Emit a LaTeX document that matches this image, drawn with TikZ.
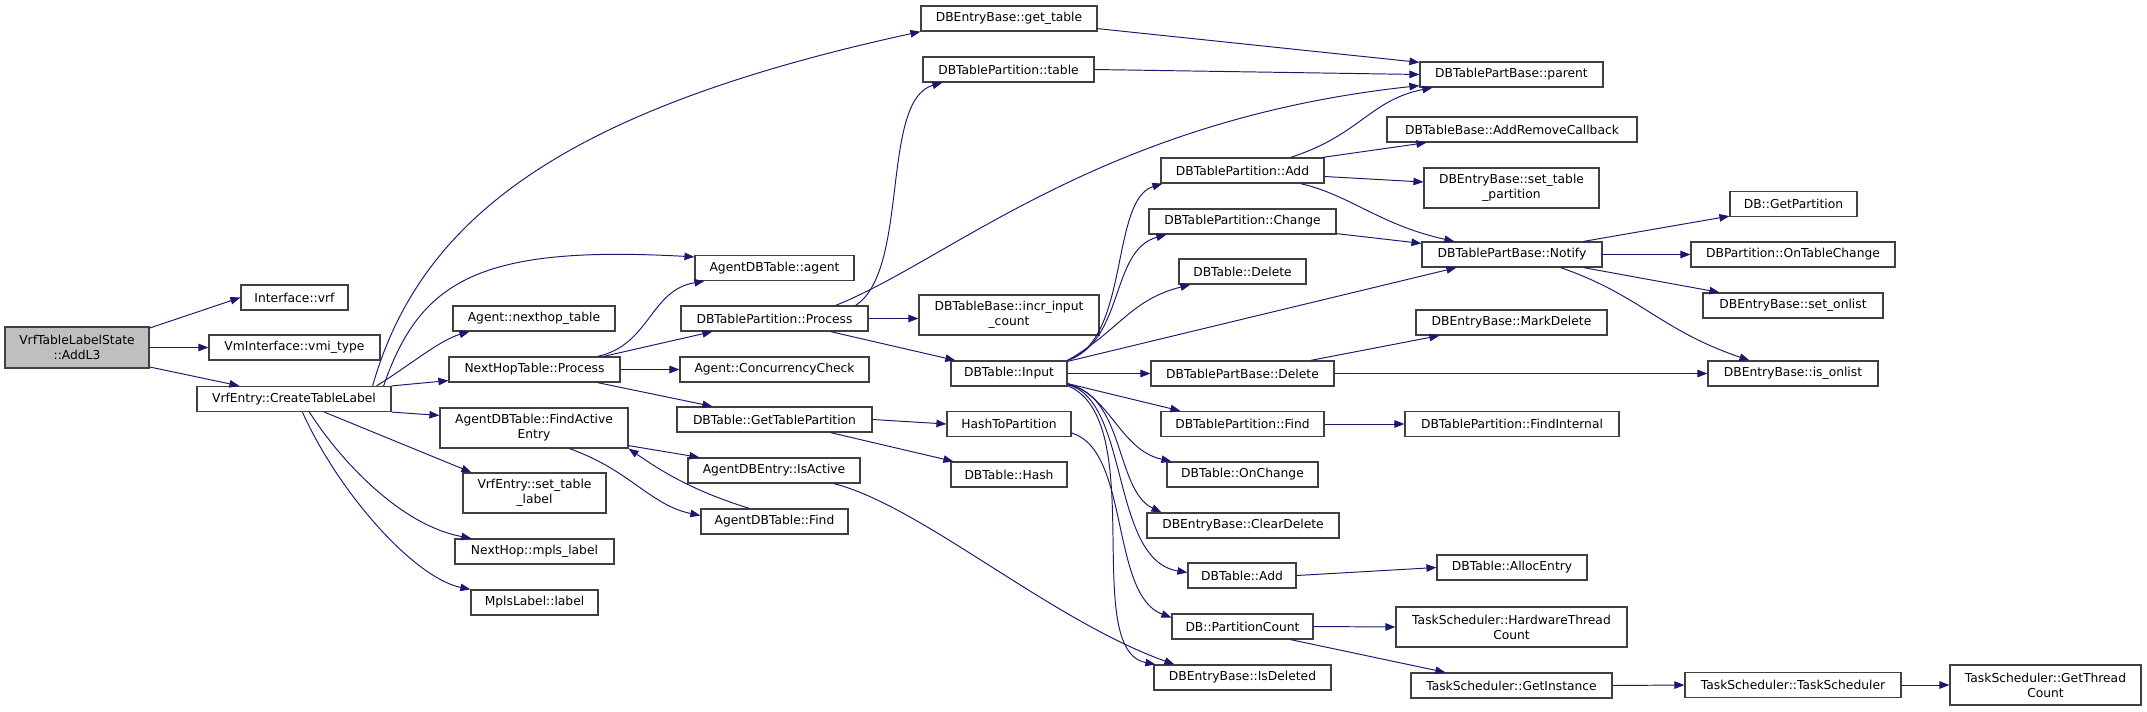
\documentclass[tikz,border=0pt]{standalone}
\usepackage{fontspec}
\setmainfont{DejaVu Sans}
\usetikzlibrary{arrows.meta,calc}
\definecolor{edgeblue}{HTML}{191970}

\begin{document}
\begin{tikzpicture}[x=0.02cm,y=-0.02cm,
  fn/.style={draw=black!75, line width=0.7pt, fill=white, inner sep=0pt, minimum height=0.5cm, align=center, font=\fontsize{7}{8.5}\selectfont},
  call/.style={draw=edgeblue, line width=0.55pt, -{Triangle[length=0.2cm,width=0.15cm]}}]
\fill[white] (0,0) rectangle (2147,711);
\node[fn, minimum width=2.88cm, minimum height=0.82cm, fill=black!25] (addl3) at (77,347.5) {VrfTableLabelState\\::AddL3};
\node[fn, minimum width=2.14cm] (ifvrf) at (294.5,297.5) {Interface::vrf};
\node[fn, minimum width=3.42cm] (vmitype) at (294.5,347.5) {VmInterface::vmi\_type};
\node[fn, minimum width=3.88cm] (ctl) at (294,399) {VrfEntry::CreateTableLabel};
\node[fn, minimum width=3.52cm] (gettable) at (1009,18.5) {DBEntryBase::get\_table};
\node[fn, minimum width=3.18cm] (agent) at (774.5,268) {AgentDBTable::agent};
\node[fn, minimum width=3.24cm] (nhtable) at (534,318.5) {Agent::nexthop\_table};
\node[fn, minimum width=3.74cm] (dbpprocess) at (774.5,318.5) {DBTablePartition::Process};
\node[fn, minimum width=3.42cm] (nhprocess) at (534.5,369.5) {NextHopTable::Process};
\node[fn, minimum width=3.78cm] (concheck) at (774.5,369.5) {Agent::ConcurrencyCheck};
\node[fn, minimum width=3.76cm, minimum height=0.8cm] (findactive) at (534,428) {AgentDBTable::FindActive\\Entry};
\node[fn, minimum width=3.90cm] (gettablepart) at (774.5,419.5) {DBTable::GetTablePartition};
\node[fn, minimum width=3.44cm] (isactive) at (774,470.5) {AgentDBEntry::IsActive};
\node[fn, minimum width=2.86cm, minimum height=0.8cm] (settablelabel) at (534.5,493) {VrfEntry::set\_table\\\_label};
\node[fn, minimum width=2.94cm] (agentfind) at (774.5,521.5) {AgentDBTable::Find};
\node[fn, minimum width=3.18cm] (mplslabel) at (534.5,551.5) {NextHop::mpls\_label};
\node[fn, minimum width=2.54cm] (label) at (534.5,602.5) {MplsLabel::label};
\node[fn, minimum width=3.42cm] (dbptable) at (1008.5,69.5) {DBTablePartition::table};
\node[fn, minimum width=3.26cm] (dbpadd) at (1242.5,170.5) {DBTablePartition::Add};
\node[fn, minimum width=3.74cm] (dbpchange) at (1242.5,221.5) {DBTablePartition::Change};
\node[fn, minimum width=2.54cm] (dbtdelete) at (1242.5,271.5) {DBTable::Delete};
\node[fn, minimum width=3.60cm, minimum height=0.8cm] (incrinput) at (1009,315) {DBTableBase::incr\_input\\\_count};
\node[fn, minimum width=2.32cm] (input) at (1009,373.5) {DBTable::Input};
\node[fn, minimum width=2.48cm] (hashtopart) at (1009,424) {HashToPartition};
\node[fn, minimum width=2.32cm] (hash) at (1009,474.5) {DBTable::Hash};
\node[fn, minimum width=3.66cm] (pbdelete) at (1242.5,373.5) {DBTablePartBase::Delete};
\node[fn, minimum width=3.26cm] (dbpfind) at (1242.5,424) {DBTablePartition::Find};
\node[fn, minimum width=3.02cm] (onchange) at (1242.5,474.5) {DBTable::OnChange};
\node[fn, minimum width=3.84cm] (cleardelete) at (1243,525.5) {DBEntryBase::ClearDelete};
\node[fn, minimum width=2.16cm] (dbtadd) at (1242,575.5) {DBTable::Add};
\node[fn, minimum width=2.82cm] (partcount) at (1242.5,626.5) {DB::PartitionCount};
\node[fn, minimum width=3.54cm] (isdeleted) at (1242.5,677.5) {DBEntryBase::IsDeleted};
\node[fn, minimum width=3.66cm] (parent) at (1511.5,74.5) {DBTablePartBase::parent};
\node[fn, minimum width=5.00cm] (addremove) at (1512,129.5) {DBTableBase::AddRemoveCallback};
\node[fn, minimum width=3.50cm, minimum height=0.8cm] (settablepart) at (1511.5,188) {DBEntryBase::set\_table\\\_partition};
\node[fn, minimum width=3.60cm] (notify) at (1512,254.5) {DBTablePartBase::Notify};
\node[fn, minimum width=3.82cm] (markdelete) at (1511.5,322.5) {DBEntryBase::MarkDelete};
\node[fn, minimum width=4.28cm] (findinternal) at (1512,424) {DBTablePartition::FindInternal};
\node[fn, minimum width=3.00cm] (allocentry) at (1512,567.5) {DBTable::AllocEntry};
\node[fn, minimum width=4.62cm, minimum height=0.8cm] (hwthread) at (1511.5,627) {TaskScheduler::HardwareThread\\Count};
\node[fn, minimum width=4.02cm] (getinstance) at (1511.5,685.5) {TaskScheduler::GetInstance};
\node[fn, minimum width=2.54cm] (getpartition) at (1793.5,204) {DB::GetPartition};
\node[fn, minimum width=4.08cm] (ontablechange) at (1793,254.5) {DBPartition::OnTableChange};
\node[fn, minimum width=3.60cm] (setonlist) at (1793,305.5) {DBEntryBase::set\_onlist};
\node[fn, minimum width=3.40cm] (isonlist) at (1793,373.5) {DBEntryBase::is\_onlist};
\node[fn, minimum width=4.32cm] (tsched) at (1793,685) {TaskScheduler::TaskScheduler};
\node[fn, minimum width=3.82cm, minimum height=0.8cm] (getthread) at (2045.5,685) {TaskScheduler::GetThread\\Count};

\draw[call] (addl3.15) -- (ifvrf.west);
\draw[call] (addl3.east) -- (vmitype.west);
\draw[call] (addl3.-15) -- ($(ctl.north west)+(43,0)$);

\draw[call] ($(ctl.north east)+(-19,0)$) .. controls (420,220) and (560,110) .. (gettable.south west);
\draw[call] ($(ctl.north east)+(-8,0)$) .. controls (420,280) and (480,245) .. ($(agent.north west)+(0,2)$);
\draw[call] ($(ctl.north east)+(-15,0)$) .. controls (410,365) and (440,340) .. ($(nhtable.south west)+(17,0)$);
\draw[call] (ctl.north east) -- ($(nhprocess.south west)+(0,-2)$);
\draw[call] (ctl.south east) -- ($(findactive.north west)+(0,8)$);
\draw[call] ($(ctl.south west)+(128,0)$) -- ($(settablelabel.north west)+(9,0)$);
\draw[call] ($(ctl.south west)+(113,0)$) .. controls (340,460) and (400,525) .. ($(mplslabel.north west)+(17,0)$);
\draw[call] ($(ctl.south west)+(106,0)$) .. controls (340,495) and (415,578) .. (label.north west);

\draw[call] ($(nhprocess.north east)+(-23,0)$) .. controls (650,345) and (650,290) .. ($(agent.south west)+(10,0)$);
\draw[call] ($(nhprocess.north east)+(-17,0)$) -- ($(dbpprocess.south west)+(32,0)$);
\draw[call] (nhprocess.east) -- (concheck.west);
\draw[call] ($(nhprocess.south east)+(-23,0)$) -- ($(gettablepart.north west)+(36,0)$);

\draw[call] ($(findactive.south east)+(0,-3)$) -- ($(isactive.north west)+(12,0)$);
\draw[call] ($(findactive.south west)+(130,0)$) .. controls (630,470) and (650,505) .. ($(agentfind.west)+(0,-6)$);
\draw[call] ($(agentfind.north west)+(49,0)$) .. controls (690,490) and (660,470) .. (findactive.south east);
\draw[call] ($(isactive.south east)+(-27,0)$) .. controls (920,505) and (1050,620) .. ($(isdeleted.north west)+(21,0)$);

\draw[call] (gettablepart.east) -- (hashtopart.west);
\draw[call] ($(gettablepart.south east)+(-42,0)$) -- ($(hash.north west)+(3,0)$);
\draw[call] ($(hashtopart.east)+(0,9)$) .. controls (1130,450) and (1110,595) .. ($(partcount.west)+(0,-9)$);

\draw[call] ($(dbpprocess.north east)+(-13,0)$) .. controls (910,270) and (880,100) .. ($(dbptable.south west)+(20,0)$);
\draw[call] ($(dbpprocess.north east)+(-33,0)$) .. controls (950,260) and (1100,120) .. ($(parent.south west)+(0,-2)$);
\draw[call] (dbpprocess.east) -- (dbpprocess.east -| incrinput.west);
\draw[call] ($(dbpprocess.south east)+(-38,0)$) -- ($(input.north west)+(5,0)$);

\draw[call] ($(gettable.south east)+(0,-3)$) -- ($(parent.north west)+(0,1)$);
\draw[call] (dbptable.east) -- (parent.west);

\draw[call] ($(dbpadd.north east)+(-34,0)$) .. controls (1360,135) and (1370,100) .. ($(parent.south west)+(13,0)$);
\draw[call] ($(dbpadd.north east)+(-2,0)$) -- ($(addremove.south west)+(40,0)$);
\draw[call] ($(dbpadd.east)+(0,6)$) -- ($(settablepart.west)+(0,-6)$);
\draw[call] ($(dbpadd.south east)+(-24,0)$) .. controls (1350,195) and (1380,225) .. ($(notify.north west)+(33,0)$);
\draw[call] ($(dbpchange.south east)+(0,-1)$) -- ($(notify.north west)+(0,2)$);

\draw[call] ($(input.north east)+(0,1)$) -- ($(notify.south west)+(35,0)$);
\draw[call] (input.north east) .. controls (1130,340) and (1110,200) .. ($(dbpadd.south west)+(2,0)$);
\draw[call] (input.north east) .. controls (1125,340) and (1110,250) .. ($(dbpchange.south west)+(18,0)$);
\draw[call] (input.north east) .. controls (1120,330) and (1130,300) .. ($(dbtdelete.south west)+(12,0)$);
\draw[call] (input.east) -- (pbdelete.west);
\draw[call] ($(input.south east)+(0,-3)$) -- ($(dbpfind.north west)+(20,0)$);
\draw[call] ($(input.south east)+(0,-3)$) .. controls (1110,395) and (1120,450) .. ($(onchange.north west)+(5,0)$);
\draw[call] ($(input.south east)+(0,-2)$) .. controls (1125,395) and (1115,490) .. ($(cleardelete.north west)+(15,0)$);
\draw[call] ($(input.south east)+(0,-2)$) .. controls (1130,400) and (1110,560) .. ($(dbtadd.west)+(0,-3)$);
\draw[call] ($(input.south east)+(0,-1)$) .. controls (1150,420) and (1080,650) .. ($(isdeleted.north west)+(2,0)$);

\draw[call] ($(pbdelete.north east)+(-24,0)$) -- ($(markdelete.south west)+(24,0)$);
\draw[call] (pbdelete.east) -- (isonlist.west);

\draw[call] ($(notify.north east)+(-19,0)$) -- ($(getpartition.south west)+(0,-1)$);
\draw[call] (notify.east) -- (ontablechange.west);
\draw[call] ($(notify.south east)+(-19,0)$) -- ($(setonlist.north west)+(17,0)$);
\draw[call] ($(notify.south east)+(-42,0)$) .. controls (1640,295) and (1660,330) .. ($(isonlist.north west)+(42,0)$);

\draw[call] (dbpfind.east) -- (findinternal.west);
\draw[call] (dbtadd.east) -- (allocentry.west);
\draw[call] (partcount.east) -- (hwthread.west);
\draw[call] ($(partcount.south east)+(-23,0)$) -- ($(getinstance.north west)+(35,0)$);
\draw[call] (getinstance.east) -- (tsched.west);
\draw[call] (tsched.east) -- (getthread.west);
\end{tikzpicture}
\end{document}
